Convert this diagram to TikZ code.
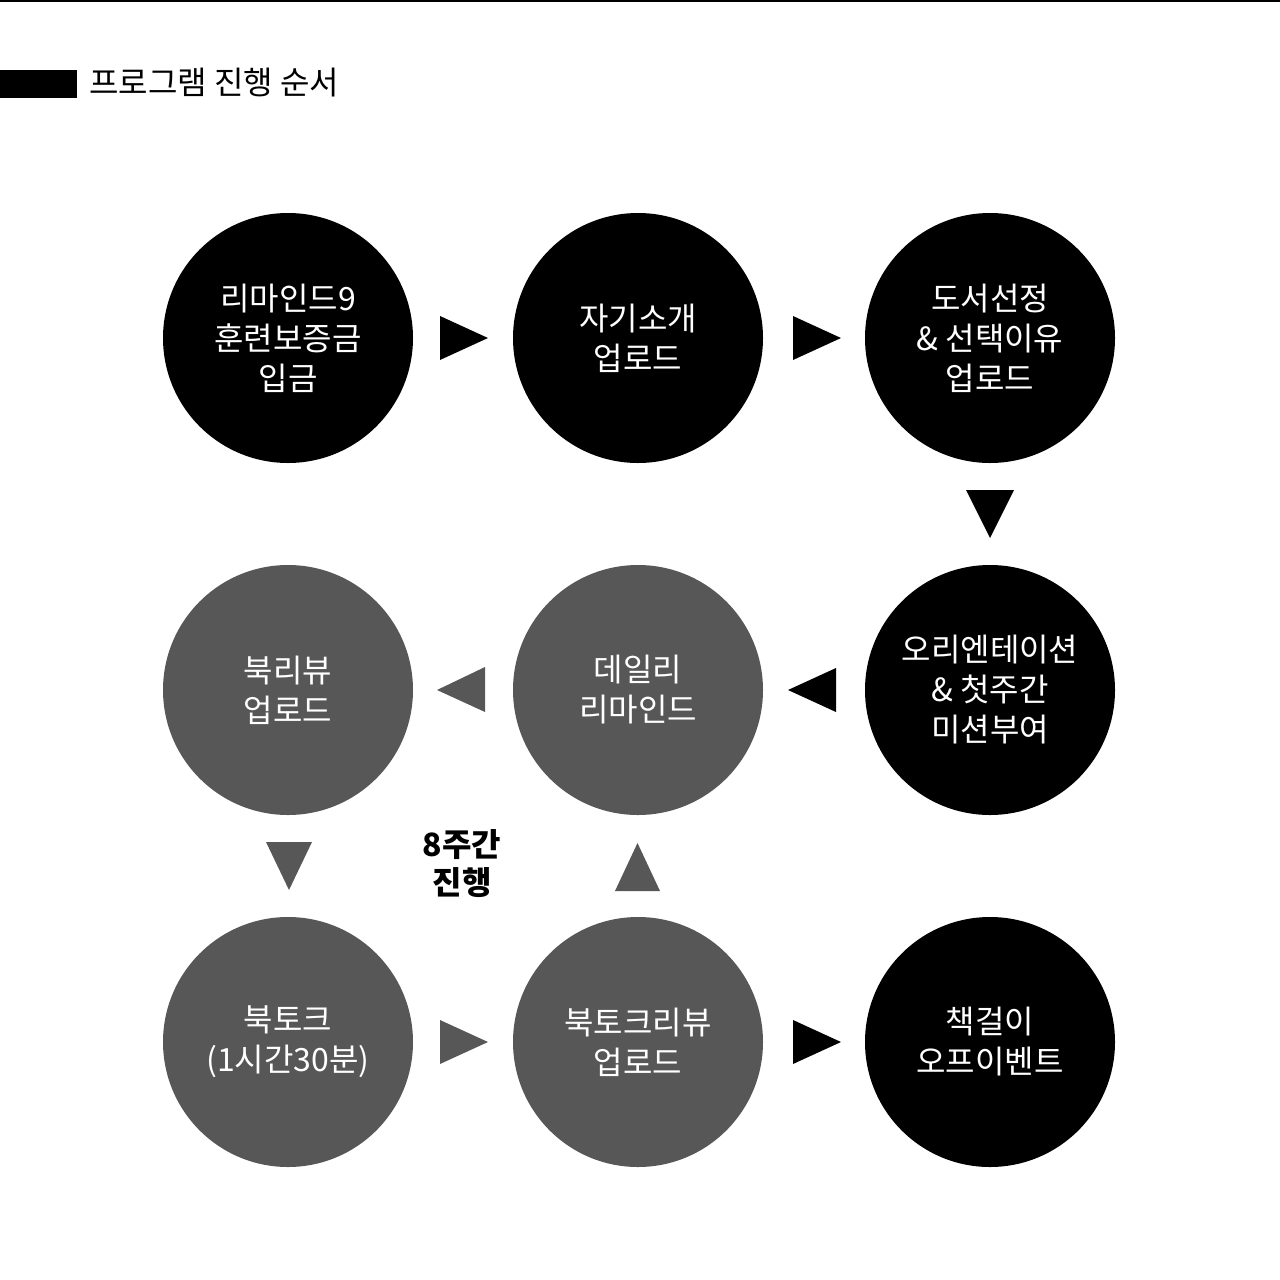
\documentclass[tikz,border=0pt]{standalone}
\usepackage{fontspec}
\setmainfont{Noto Sans CJK KR}
\definecolor{stepgrey}{HTML}{575757}
\tikzset{
  stepcircle/.style={circle, minimum size=125pt, inner sep=0pt, text=white, align=center,
    font=\fontsize{16}{20}\selectfont},
  blackstep/.style={stepcircle, fill=black},
  greystep/.style={stepcircle, fill=stepgrey},
}
\begin{document}
\begin{tikzpicture}[x=0.5pt,y=-0.5pt]
\useasboundingbox (0,0) rectangle (1280,1280);
% top rule
\fill[black] (0,0) rectangle (1280,2);
% header
\fill[black] (0,70) rectangle (77,98);
\node[anchor=west, inner sep=0pt, font=\fontsize{16}{20}\selectfont] (title) at (89,83) {프로그램 진행 순서};
% circles
\node[blackstep] (c1) at (288,338) {리마인드9\\훈련보증금\\입금};
\node[blackstep] (c2) at (638,338) {자기소개\\업로드};
\node[blackstep] (c3) at (990,338) {도서선정\\\& 선택이유\\업로드};
\node[blackstep] (c4) at (990,690) {오리엔테이션\\\& 첫주간\\미션부여};
\node[greystep] (c5) at (638,690) {데일리\\리마인드};
\node[greystep] (c6) at (288,690) {북리뷰\\업로드};
\node[greystep] (c7) at (288,1042) {북토크\\(1시간30분)};
\node[greystep] (c8) at (638,1042) {북토크리뷰\\업로드};
\node[blackstep] (c9) at (990,1042) {책걸이\\오프이벤트};
% middle label
\node[font=\fontsize{16}{19}\selectfont\bfseries, align=center, inner sep=0pt] (weeks) at (462,864) {8주간\\진행};
% triangles
\fill[black] (440,316) -- (488,338) -- (440,360) -- cycle;
\fill[black] (793,316) -- (841,338) -- (793,360) -- cycle;
\fill[black] (966,490) -- (1014,490) -- (990,538) -- cycle;
\fill[black] (836,668) -- (788,690) -- (836,712) -- cycle;
\fill[stepgrey] (485,667) -- (437,690) -- (485,712) -- cycle;
\fill[stepgrey] (266,842) -- (312,842) -- (289,890) -- cycle;
\fill[stepgrey] (615,891) -- (660,891) -- (637.5,843) -- cycle;
\fill[stepgrey] (440,1020) -- (488,1042) -- (440,1064) -- cycle;
\fill[black] (793,1020) -- (841,1042) -- (793,1064) -- cycle;
\end{tikzpicture}
\end{document}
